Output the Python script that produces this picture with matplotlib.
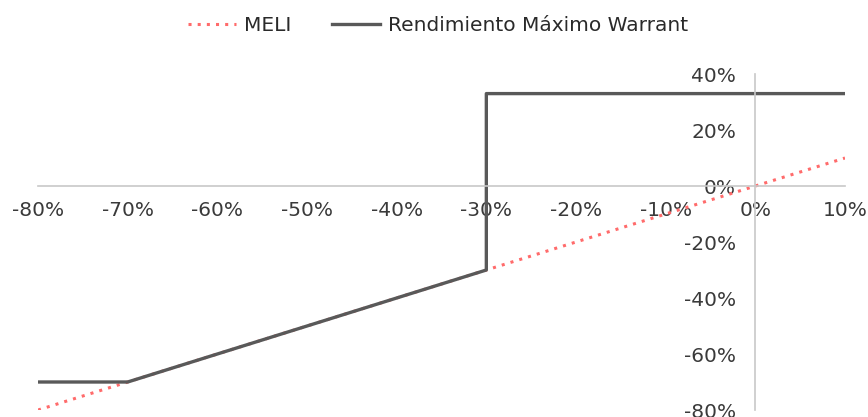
import matplotlib
matplotlib.use("Agg")
import matplotlib.pyplot as plt
from matplotlib.ticker import FuncFormatter

plt.rcParams["font.family"] = ["DejaVu Sans"]

# ── Data (returns in %) ──────────────────────────────────────────────────────
meli_x = [-80, 10]
meli_y = [-80, 10]

warrant_x = [-80, -70, -30, -30, 10]
warrant_y = [-70, -70, -30, 33, 33]

x_ticks = [-80, -70, -60, -50, -40, -30, -20, -10, 0, 10]
y_ticks = [-80, -60, -40, -20, 0, 20, 40]

fig = plt.figure(figsize=(8.68, 4.17), dpi=100)
ax = fig.add_axes([38 / 868, 7 / 417, (845 - 38) / 868, (410 - 74) / 417])

ax.plot(meli_x, meli_y, color="#ff6b6b", lw=2.2, ls=(0, (1, 2)), label="MELI")
ax.plot(warrant_x, warrant_y, color="#595959", lw=2.4, label="Rendimiento Máximo Warrant")

ax.set_xlim(-80, 10)
ax.set_ylim(-80, 40)
ax.set_xticks(x_ticks)
ax.set_yticks(y_ticks)
pct = FuncFormatter(lambda v, _: f"{v:.0f}%")
ax.xaxis.set_major_formatter(pct)
ax.yaxis.set_major_formatter(pct)

# axes crossing at zero
ax.spines["left"].set_position(("data", 0))
ax.spines["bottom"].set_position(("data", 0))
ax.spines["right"].set_visible(False)
ax.spines["top"].set_visible(False)
for s in ("left", "bottom"):
    ax.spines[s].set_color("#c8c8c8")
    ax.spines[s].set_linewidth(1.2)

ax.tick_params(axis="x", length=0, pad=11, labelsize=14.5, labelcolor="#3a3a3a")
ax.tick_params(axis="y", length=0, pad=14, labelsize=14.5, labelcolor="#3a3a3a")
ax.patch.set_visible(False)

fig.legend(loc="upper center", bbox_to_anchor=(0.505, 1.005), ncol=2, frameon=False,
           fontsize=14.5, handlelength=2.4, columnspacing=2.0, handletextpad=0.4,
           labelcolor="#2a2a2a")

fig.savefig("out.png", dpi=100)
